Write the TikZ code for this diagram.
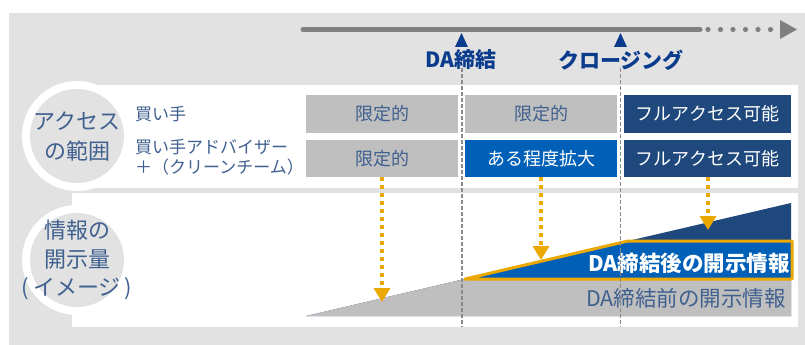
\documentclass[tikz,border=0pt]{standalone}
\usepackage{fontspec}
\newfontfamily\jp{Noto Sans CJK JP}
\usetikzlibrary{arrows.meta}
\definecolor{bggray}{HTML}{E2E2E2}
\definecolor{boxgray}{HTML}{BFBFBF}
\definecolor{bluegray}{HTML}{40608F}
\definecolor{navy}{HTML}{1F497D}
\definecolor{midblue}{HTML}{0060B8}
\definecolor{darkblue}{HTML}{0B3B8C}
\definecolor{amber}{HTML}{EBA800}
\definecolor{tlgray}{HTML}{808080}
\definecolor{dashgray}{HTML}{8A8A8A}
\tikzset{
  cell/.style={inner sep=0pt, minimum width=152pt, font=\jp\fontsize{18}{20}\selectfont},
  graycell/.style={cell, fill=boxgray, text=bluegray},
  bluecell/.style={cell, fill=midblue, text=white},
  navycell/.style={cell, fill=navy, text=white, minimum width=167pt},
  rowlabel/.style={anchor=west, inner sep=0pt, text=bluegray, font=\jp\fontsize{17}{20}\selectfont, align=left},
  circtext/.style={inner sep=0pt, text=bluegray, align=center},
  milestone/.style={inner sep=0pt, text=darkblue, font=\jp\bfseries\fontsize{21}{24}\selectfont},
  marker/.style={fill=darkblue},
  vdash/.style={draw=dashgray, line width=1.5pt, dash pattern=on 4pt off 2pt},
  yarrow/.style={draw=amber, line width=3.5pt, dash pattern=on 3.5pt off 4.5pt, -{Triangle[width=16pt,length=14pt,fill=amber]}},
}
\begin{document}
\begin{tikzpicture}[x=1pt,y=-1pt]
\useasboundingbox (0,0) rectangle (805,345);
% background
\fill[bggray] (9,13) rectangle (805,345);
\fill[white] (72,85) rectangle (798,188);
\fill[white] (72,193) rectangle (798,327);
% circles
\fill[white] (77,136) circle (55pt);
\fill[bggray] (77,136) circle (47pt);
\fill[white] (77,260) circle (55pt);
\fill[bggray] (77,260) circle (47pt);
\node[circtext, font=\jp\fontsize{22}{30}\selectfont] (c1) at (77,137) {アクセス\\の範囲};
\node[circtext, font=\jp\fontsize{22}{28.5}\selectfont] (c2) at (77,260) {情報の\\開示量\\(\kern4pt イメージ\kern4pt)};
% timeline
\draw[tlgray, line width=5pt, line cap=round] (303,29.5) -- (700,29.5);
\foreach \x [count=\i] in {708,720.5,733,745.5,758,770.5}
  \fill[tlgray] (\x,29.5) circle (2.6pt);
\fill[tlgray] (780,20) -- (797,29.5) -- (780,39) -- cycle;
% row labels
\node[rowlabel] (r1) at (135,114.5) {買い手};
\node[rowlabel] (r2a) at (135,147.5) {買い手アドバイザー};
\node[rowlabel] (r2b) at (135,167.5) {＋（クリーンチーム）};
% cells
\node[graycell, minimum height=38pt] (b11) at (382,114) {限定的};
\node[graycell, minimum height=38pt] (b12) at (541,114) {限定的};
\node[navycell, minimum height=38pt] (b13) at (707.5,114) {フルアクセス可能};
\node[graycell, minimum height=37pt] (b21) at (382,158.5) {限定的};
\node[bluecell, minimum height=37pt] (b22) at (541,158.5) {ある程度拡大};
\node[navycell, minimum height=37pt] (b23) at (707.5,158.5) {フルアクセス可能};
% chart
\fill[navy] (306,316) -- (791,203) -- (791,316) -- cycle;
\fill[boxgray] (306,316) -- (465,279) -- (791,279) -- (791,316) -- cycle;
\filldraw[fill=midblue, draw=amber, line width=3pt, line join=round] (465,279) -- (628,241) -- (792,241) -- (792,279) -- cycle;
\node[anchor=east, inner sep=0pt, text=white, font=\jp\bfseries\fontsize{21.5}{24}\selectfont] (after) at (790,263) {DA締結後の開示情報};
\node[anchor=east, inner sep=0pt, text=bluegray, font=\jp\fontsize{21.5}{24}\selectfont] (before) at (786,298) {DA締結前の開示情報};
% vertical dashed lines
\coordinate (d1t) at (462,68);
\coordinate (d1b) at (462,327);
\coordinate (d2t) at (620.5,68);
\coordinate (d2b) at (620.5,327);
\draw[vdash] (d1t) -- (d1b);
\draw[vdash] (d2t) -- (d2b);
% markers
\fill[marker] (455,47) -- (468,47) -- (461.5,33) -- cycle;
\fill[marker] (614,47) -- (627,47) -- (620.5,33) -- cycle;
\node[milestone] (m1) at (461,60) {DA締結};
\node[milestone] (m2) at (621,60) {クロージング};
% arrows
\coordinate (t1) at (382,302);
\coordinate (t2) at (541,260);
\coordinate (t3) at (708,230);
\draw[yarrow] (b21.south) -- (t1);
\draw[yarrow] (b22.south) -- (t2);
\draw[yarrow] (b23.south -| t3) -- (t3);
\end{tikzpicture}
\end{document}
